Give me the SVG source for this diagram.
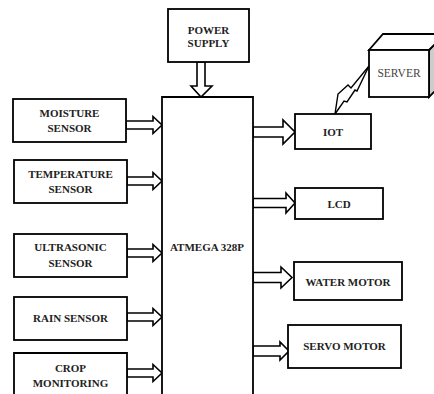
<svg xmlns="http://www.w3.org/2000/svg" width="434" height="394" viewBox="0 0 434 394">
<style>
.box{fill:#fff;stroke:#000;stroke-width:1.8}
.arr{fill:#fff;stroke:#000;stroke-width:1.6;stroke-linejoin:miter}
.t{font-family:"Liberation Serif","Times New Roman",serif;font-weight:bold;font-size:11px;fill:#222;text-anchor:middle}
.s{font-family:"Liberation Serif","Times New Roman",serif;font-size:11.5px;fill:#444;text-anchor:middle}
.bolt{fill:none;stroke:#000;stroke-width:1.4}
</style>
<rect width="434" height="394" fill="#fff"/>
<g id="connectors">
<polygon class="arr" points="197,62 205,62 205,86 212,86 201,97 191,86 197,86"/>
<polygon class="arr" points="126,121 153,121 153,116.5 162,125 153,133.5 153,129 126,129"/>
<polygon class="arr" points="127,177 153,177 153,172.5 162,181 153,189.5 153,185 127,185"/>
<polygon class="arr" points="127,249 153,249 153,244.5 162,253 153,261.5 153,257 127,257"/>
<polygon class="arr" points="127,313 153,313 153,308.5 162,317 153,325.5 153,321 127,321"/>
<polygon class="arr" points="127,369 153,369 153,364.5 162,373 153,381.5 153,377 127,377"/>
<polygon class="arr" points="253,127 283,127 283,120 295,132 283,144 283,137 253,137"/>
<polygon class="arr" points="253,198.5 286,198.5 286,193 295,203 286,213 286,207.5 253,207.5"/>
<polygon class="arr" points="253,272.5 281,272.5 281,267 292,277.5 281,288 281,282.5 253,282.5"/>
<polygon class="arr" points="253,346 280,346 280,342 289,351 280,360 280,356 253,356"/>
<polyline class="bolt" points="335,114 338,94 348,85 351,88 369,66"/>
<polyline class="bolt" points="335,114 344,101 347,102 355,90 357,91 369,66"/>
</g>
<g id="power">
<rect class="box" x="168" y="9" width="81" height="53"/>
<text class="t" x="208.5" y="34">POWER</text>
<text class="t" x="208.5" y="47">SUPPLY</text>
</g>
<g id="atmega">
<path d="M162,396 V97 H253 V396" fill="#fff" stroke="#000" stroke-width="1.8"/>
<text class="t" x="207" y="251">ATMEGA 328P</text>
</g>
<g id="moisture">
<rect class="box" x="13" y="99" width="113" height="43"/>
<text class="t" x="69.5" y="117">MOISTURE</text>
<text class="t" x="69.5" y="132">SENSOR</text>
</g>
<g id="temperature">
<rect class="box" x="14" y="160" width="113" height="43"/>
<text class="t" x="70.5" y="178">TEMPERATURE</text>
<text class="t" x="70.5" y="193">SENSOR</text>
</g>
<g id="ultrasonic">
<rect class="box" x="14" y="234" width="113" height="43"/>
<text class="t" x="70.5" y="251">ULTRASONIC</text>
<text class="t" x="70.5" y="267">SENSOR</text>
</g>
<g id="rain">
<rect class="box" x="14" y="297" width="113" height="43"/>
<text class="t" x="70.5" y="322">RAIN SENSOR</text>
</g>
<g id="crop">
<path d="M14,396 V353 H127 V396" fill="#fff" stroke="#000" stroke-width="1.8"/>
<text class="t" x="70.5" y="372">CROP</text>
<text class="t" x="70.5" y="387">MONITORING</text>
</g>
<g id="iot">
<rect class="box" x="295" y="114" width="76" height="35"/>
<text class="t" x="333" y="136">IOT</text>
</g>
<g id="lcd">
<rect class="box" x="295" y="188" width="88" height="31"/>
<text class="t" x="339" y="208">LCD</text>
</g>
<g id="water">
<rect class="box" x="294" y="262" width="108" height="38"/>
<text class="t" x="348" y="286">WATER MOTOR</text>
</g>
<g id="servo">
<rect class="box" x="288" y="325" width="113" height="43"/>
<text class="t" x="344.5" y="350">SERVO MOTOR</text>
</g>
<g id="server">
<polygon points="429,50 445,34 445,81 429,97" fill="#ccc" stroke="#000" stroke-width="1.8"/>
<polygon points="369,50 383,34 445,34 429,50" fill="#fff" stroke="#000" stroke-width="1.8"/>
<rect class="box" x="369" y="50" width="60" height="47"/>
<text class="s" x="399" y="77">SERVER</text>
</g>
</svg>
